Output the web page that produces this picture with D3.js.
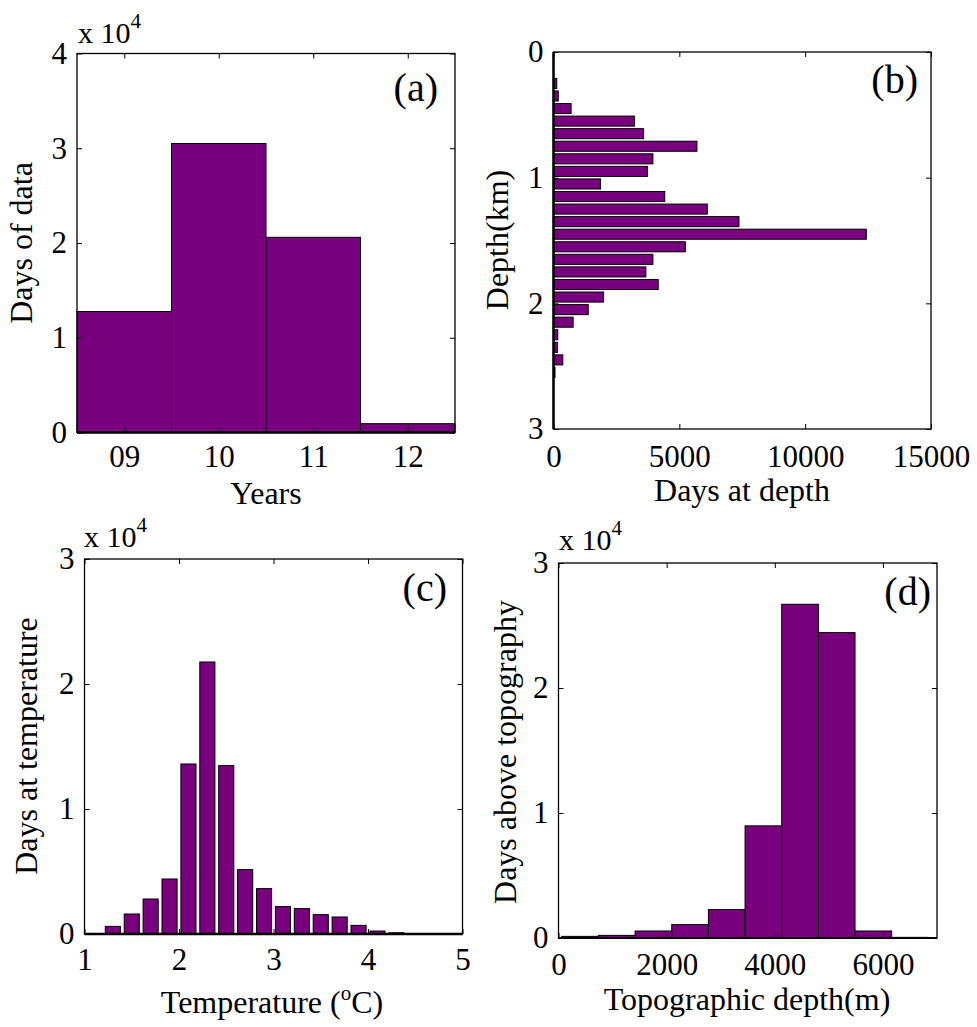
<!DOCTYPE html>
<html>
<head>
<meta charset="utf-8">
<script src="https://cdn.jsdelivr.net/npm/d3@7"></script>
<style>
  body { margin: 0; background: #fff; }
  svg text { font-family: "Liberation Serif", "Times New Roman", serif !important; fill: #000; }
</style>
</head>
<body>
<svg id="chart" width="977" height="1027"></svg>
<script>
// (a) days of data per year
const yearNums = [9, 10, 11, 12];
const yearLabels = ["09", "10", "11", "12"];
const yearDays = [12770, 30500, 20600, 930];

// (b) days at depth (bin centres in km)
const depthKm = [0.25, 0.35, 0.45, 0.55, 0.65, 0.75, 0.85, 0.95, 1.05, 1.15, 1.25, 1.35,
                 1.45, 1.55, 1.65, 1.75, 1.85, 1.95, 2.05, 2.15, 2.25, 2.35, 2.45, 2.55];
const depthDays = [130, 190, 700, 3220, 3580, 5700, 3950, 3730, 1870, 4420, 6110, 7370,
                   12430, 5240, 3950, 3670, 4160, 1990, 1380, 780, 170, 160, 370, 60];

// (c) days at temperature (bin centres in deg C)
const tempC = [1.3, 1.5, 1.7, 1.9, 2.1, 2.3, 2.5, 2.7, 2.9, 3.1, 3.3, 3.5, 3.7, 3.9, 4.1, 4.3, 4.5, 4.7, 4.9];
const tempDays = [610, 1600, 2800, 4400, 13600, 21760, 13470, 5150, 3630, 2190, 2030, 1550, 1360, 690, 240, 100, 20, 20, 20];

// (d) days above topography (bin edges in m)
const topoEdges = [60, 738, 1416, 2094, 2772, 3450, 4128, 4806, 5484, 6162, 6840];
const topoDays = [130, 210, 560, 1070, 2270, 8970, 26700, 24430, 560, 50];

const purple = "#78007f";
const svg = d3.select("#chart");

// draws box, inward ticks on all four sides and tick labels
function drawFrame(p, x, y, xTicks, xFmt, yTicks, yFmt, xOff) {
  const g = svg.append("g");
  const bottom = g.append("g")
    .attr("transform", `translate(0,${p.bottom})`)
    .call(d3.axisBottom(x).tickValues(xTicks).tickFormat(xFmt).tickSize(-5).tickSizeOuter(0));
  bottom.selectAll("text").attr("y", xOff).attr("dy", 0);
  g.append("g")
    .attr("transform", `translate(0,${p.top})`)
    .call(d3.axisTop(x).tickValues(xTicks).tickFormat("").tickSize(-5).tickSizeOuter(0));
  g.append("g")
    .attr("transform", `translate(${p.left},0)`)
    .call(d3.axisLeft(y).tickValues(yTicks).tickFormat(yFmt).tickSize(-5).tickSizeOuter(0).tickPadding(10));
  g.append("g")
    .attr("transform", `translate(${p.right},0)`)
    .call(d3.axisRight(y).tickValues(yTicks).tickFormat("").tickSize(-5).tickSizeOuter(0));
  g.selectAll(".domain").remove();
  g.selectAll("g").attr("font-size", 31).attr("font-family", "Liberation Serif, serif");
  g.selectAll(".tick line").attr("stroke", "#000");

  g.append("rect")
    .attr("x", p.left).attr("y", p.top)
    .attr("width", p.right - p.left).attr("height", p.bottom - p.top)
    .attr("fill", "none").attr("stroke", "#000").attr("stroke-width", 1.3);
}

function expLabel(x, y) {
  const t = svg.append("text").attr("x", x).attr("y", y).attr("font-size", 30);
  t.append("tspan").text("x 10");
  t.append("tspan").attr("font-size", 21).attr("dy", -15).text("4");
}

function panelTag(x, y, s) {
  svg.append("text").attr("x", x).attr("y", y).attr("text-anchor", "end")
    .attr("font-size", 40).text(s);
}

function xTitle(x, y, s) {
  return svg.append("text").attr("x", x).attr("y", y).attr("text-anchor", "middle")
    .attr("font-size", 32).text(s);
}

function yTitle(x, y, s) {
  svg.append("text").attr("transform", `translate(${x},${y}) rotate(-90)`)
    .attr("text-anchor", "middle").attr("font-size", 32).text(s);
}

// ---------- (a) ----------
const pa = { left: 77, top: 53.5, right: 455, bottom: 432.5 };
const xa = d3.scaleLinear().domain([8.5, 12.5]).range([pa.left, pa.right]);
const ya = d3.scaleLinear().domain([0, 40000]).range([pa.bottom, pa.top]);
svg.append("g").selectAll("rect")
  .data(yearNums)
  .join("rect")
  .attr("x", d => xa(d - 0.5))
  .attr("width", d => xa(d + 0.5) - xa(d - 0.5))
  .attr("y", (d, i) => ya(yearDays[i]))
  .attr("height", (d, i) => ya(0) - ya(yearDays[i]))
  .attr("fill", purple).attr("stroke", "#000").attr("stroke-width", 1);
drawFrame(pa, xa, ya, yearNums, (d, i) => yearLabels[i], [0, 10000, 20000, 30000, 40000], d => d / 1e4, 34.5);
svg.append("line").attr("x1", pa.left).attr("x2", pa.right).attr("y1", ya(0)).attr("y2", ya(0))
  .attr("stroke", "#000").attr("stroke-width", 2.5);
expLabel(78, 43);
panelTag(438, 101, "(a)");
xTitle(266, 504, "Years");
yTitle(32, 243, "Days of data");

// ---------- (b) ----------
const pb = { left: 553.5, top: 52, right: 931, bottom: 429 };
const xb = d3.scaleLinear().domain([0, 15000]).range([pb.left, pb.right]);
const yb = d3.scaleLinear().domain([0, 3]).range([pb.top, pb.bottom]);
svg.append("g").selectAll("rect")
  .data(depthKm)
  .join("rect")
  .attr("x", xb(0))
  .attr("width", (d, i) => xb(depthDays[i]) - xb(0))
  .attr("y", d => yb(d - 0.04))
  .attr("height", d => yb(d + 0.04) - yb(d - 0.04))
  .attr("fill", purple).attr("stroke", "#000").attr("stroke-width", 1);
drawFrame(pb, xb, yb, [0, 5000, 10000, 15000], d => d, [0, 1, 2, 3], d => d, 38);
svg.append("line").attr("x1", xb(0)).attr("x2", xb(0)).attr("y1", pb.top).attr("y2", pb.bottom)
  .attr("stroke", "#000").attr("stroke-width", 2.5);
panelTag(918, 93, "(b)");
xTitle(742, 501, "Days at depth");
yTitle(508, 240, "Depth(km)");

// ---------- (c) ----------
const pc = { left: 84.5, top: 559, right: 462.5, bottom: 934 };
const xc = d3.scaleLinear().domain([1, 5]).range([pc.left, pc.right]);
const yc = d3.scaleLinear().domain([0, 30000]).range([pc.bottom, pc.top]);
svg.append("g").selectAll("rect")
  .data(tempC)
  .join("rect")
  .attr("x", d => xc(d - 0.08))
  .attr("width", d => xc(d + 0.08) - xc(d - 0.08))
  .attr("y", (d, i) => yc(tempDays[i]))
  .attr("height", (d, i) => yc(0) - yc(tempDays[i]))
  .attr("fill", purple).attr("stroke", "#000").attr("stroke-width", 1);
drawFrame(pc, xc, yc, [1, 2, 3, 4, 5], d => d, [0, 10000, 20000, 30000], d => d / 1e4, 36);
svg.append("line").attr("x1", pc.left).attr("x2", pc.right).attr("y1", yc(0)).attr("y2", yc(0))
  .attr("stroke", "#000").attr("stroke-width", 2.5);
expLabel(84, 547);
panelTag(447, 601, "(c)");
const tt = xTitle(272, 1013, "Temperature (");
tt.append("tspan").attr("font-size", 21).attr("dy", -13).text("o");
tt.append("tspan").attr("dy", 13).text("C)");
yTitle(37, 746, "Days at temperature");

// ---------- (d) ----------
const pd = { left: 558.5, top: 563, right: 937, bottom: 938 };
const xd = d3.scaleLinear().domain([0, 7000]).range([pd.left, pd.right]);
const yd = d3.scaleLinear().domain([0, 30000]).range([pd.bottom, pd.top]);
svg.append("g").selectAll("rect")
  .data(topoDays)
  .join("rect")
  .attr("x", (d, i) => xd(topoEdges[i]))
  .attr("width", (d, i) => xd(topoEdges[i + 1]) - xd(topoEdges[i]))
  .attr("y", d => yd(d))
  .attr("height", d => yd(0) - yd(d))
  .attr("fill", purple).attr("stroke", "#000").attr("stroke-width", 1);
drawFrame(pd, xd, yd, [0, 2000, 4000, 6000], d => d, [0, 10000, 20000, 30000], d => d / 1e4, 37);
svg.append("line").attr("x1", pd.left).attr("x2", pd.right).attr("y1", yd(0)).attr("y2", yd(0))
  .attr("stroke", "#000").attr("stroke-width", 1.8);
expLabel(559, 550);
panelTag(931, 605, "(d)");
xTitle(747, 1010, "Topographic depth(m)");
yTitle(516, 752, "Days above topography");
</script>
</body>
</html>
